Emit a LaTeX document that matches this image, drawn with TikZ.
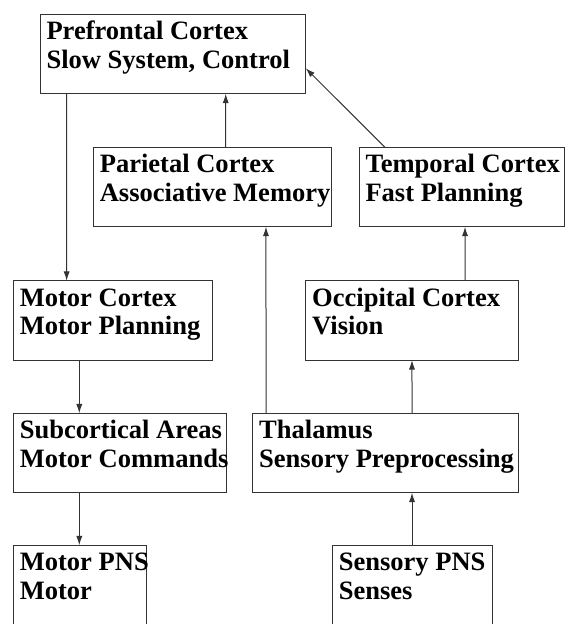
\documentclass[tikz,border=0pt]{standalone}
\usepackage{fontspec}
\setmainfont{Liberation Serif}
\usetikzlibrary{arrows.meta}

\tikzset{every picture/.style={line width=0.75pt}}
\tikzset{
  area/.style={draw=black!80, inner sep=0pt, outer sep=0pt, anchor=north west, minimum height=59.6pt},
  lbl/.style={anchor=base west, inner sep=0pt, align=left, font=\fontsize{19.9}{21.2}\selectfont\bfseries},
  link/.style={draw=black!80, -{Latex[length=7pt,width=4.6pt]}}
}

\begin{document}
\begin{tikzpicture}[x=0.75pt,y=0.75pt,yscale=-1,xscale=1]
\useasboundingbox (0,0) rectangle (565,624);
\clip (0,0) rectangle (565,624);

% boxes
\node [area, minimum width=199.3pt] (pfc) at (40,14.3) {};
\node [area, minimum width=179pt] (par) at (93.3,147.3) {};
\node [area, minimum width=154pt] (tem) at (359,147.3) {};
\node [area, minimum width=149.3pt] (mot) at (13.3,280.7) {};
\node [area, minimum width=159.5pt] (occ) at (305.7,280.7) {};
\node [area, minimum width=160pt] (sub) at (13.3,413.3) {};
\node [area, minimum width=199.2pt] (tha) at (252.7,413.3) {};
\node [area, minimum width=100pt] (mpns) at (13.3,545.3) {};
\node [area, minimum width=119.8pt] (spns) at (332.3,545.3) {};

% labels (base = last line)
\node [lbl] (pfct) at ([xshift=4.5pt,yshift=40.4pt]pfc.north west) {Prefrontal Cortex\\Slow System, Control};
\node [lbl] (part) at ([xshift=4.5pt,yshift=40.4pt]par.north west) {Parietal Cortex\\Associative Memory};
\node [lbl] (temt) at ([xshift=4.5pt,yshift=40.4pt]tem.north west) {Temporal Cortex\\Fast Planning};
\node [lbl] (mott) at ([xshift=4.5pt,yshift=40.4pt]mot.north west) {Motor Cortex\\Motor Planning};
\node [lbl] (occt) at ([xshift=4.5pt,yshift=40.4pt]occ.north west) {Occipital Cortex\\Vision};
\node [lbl] (subt) at ([xshift=4.5pt,yshift=40.4pt]sub.north west) {Subcortical Areas\\Motor Commands};
\node [lbl] (that) at ([xshift=4.5pt,yshift=40.4pt]tha.north west) {Thalamus\\Sensory Preprocessing};
\node [lbl] (mpnst) at ([xshift=4.5pt,yshift=40.4pt]mpns.north west) {Motor PNS\\Motor};
\node [lbl] (spnst) at ([xshift=4.5pt,yshift=40.4pt]spns.north west) {Sensory PNS\\Senses};

% connectors
\draw [link] ([xshift=20pt]pfc.south west) -- ([xshift=40pt]mot.north west);
\draw [link] ([xshift=99.3pt]par.north west) -- ([xshift=139.3pt]pfc.south west);
\draw [link] ([xshift=19.5pt]tem.north west) -- ([yshift=10.7pt]pfc.east);
\draw [link] ([xshift=49.5pt]mot.south west) -- ([xshift=49.5pt]sub.north west);
\draw [link] ([xshift=49.5pt]sub.south west) -- ([xshift=49.5pt]mpns.north west);
\draw [link] ([xshift=10pt]tha.north west) -- ([xshift=129.5pt]par.south west);
\draw [link] ([xshift=119.5pt]tha.north west) -- ([xshift=79.7pt]occ.south west);
\draw [link] ([xshift=119.5pt]occ.north west) -- ([xshift=79.5pt]tem.south west);
\draw [link] ([xshift=59.8pt]spns.north west) -- ([xshift=119.5pt]tha.south west);

\end{tikzpicture}
\end{document}
